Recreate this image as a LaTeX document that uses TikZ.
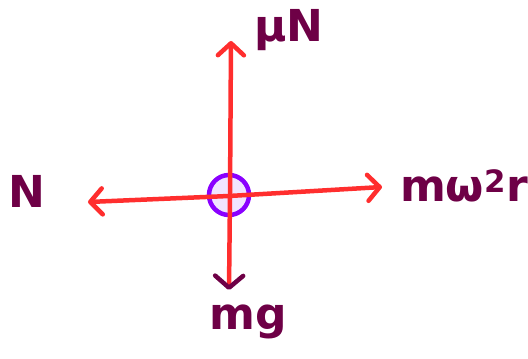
\documentclass[tikz,border=0pt]{standalone}
\usepackage{fontspec}
\setmainfont{DejaVu Sans}
\usetikzlibrary{arrows.meta}
\definecolor{forcered}{HTML}{FF2E2E}
\definecolor{inkmaroon}{HTML}{6E0046}
\definecolor{ringpurple}{HTML}{8A00FF}
\definecolor{ringfill}{HTML}{F1E4FF}
\tikzset{
  force/.style={draw=forcered, line width=4.5pt, line cap=round,
    -{Straight Barb[length=12pt, width=26pt, line width=4.5pt, round]}},
  lbl/.style={text=inkmaroon, font=\bfseries\fontsize{44}{48}\selectfont, inner sep=0pt},
}
\begin{document}
\begin{tikzpicture}[x=1pt,y=-1pt]
\useasboundingbox (0,0) rectangle (528,359);
\node[circle, draw=ringpurple, fill=ringfill, line width=4.5pt, minimum size=40pt, inner sep=0pt] (o) at (229,195) {};
\coordinate (top) at (231,41);
\coordinate (bot) at (229,290);
\coordinate (left) at (88,202);
\coordinate (right) at (382,187);
\coordinate (vmid) at (230,195);
\coordinate (hmid) at (229,196);
\draw[force] (vmid) -- (top);
\draw[force, -{Straight Barb[length=12pt, width=28pt, line width=4.5pt, round, color=inkmaroon]}] (vmid) -- (bot);
\draw[force] (hmid) -- (left);
\draw[force] (hmid) -- (right);
\node[lbl] (mun) at (289,30) {μN};
\node[lbl] (n) at (27,191) {N};
\node[lbl] (mwr) at (464,186) {mω\textsuperscript{2}r};
\node[lbl] (mg) at (248,322) {mg};
\end{tikzpicture}
\end{document}
